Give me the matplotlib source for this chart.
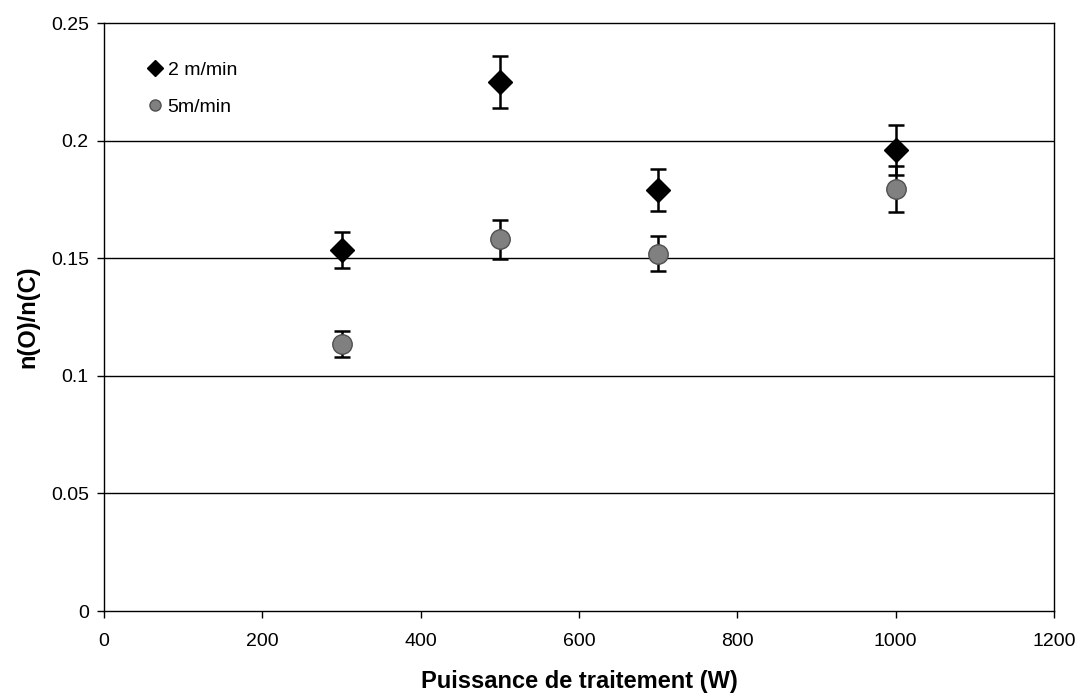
import matplotlib
matplotlib.use("Agg")
import matplotlib.pyplot as plt
from matplotlib.lines import Line2D

plt.rcParams['font.family'] = ['Liberation Sans', 'DejaVu Sans']

power = [300, 500, 700, 1000]
ratio_2 = [0.1535, 0.225, 0.179, 0.196]
err_2 = [0.0078, 0.011, 0.009, 0.0105]
ratio_5 = [0.1135, 0.158, 0.152, 0.1794]
err_5 = [0.0055, 0.0082, 0.0075, 0.0098]
labels = ['2 m/min', '5m/min']
xticks = [0, 200, 400, 600, 800, 1000, 1200]
yticks = [0, 0.05, 0.1, 0.15, 0.2, 0.25]
ytick_labels = ['0', '0.05', '0.1', '0.15', '0.2', '0.25']

fig = plt.figure(figsize=(10.86, 7.0), dpi=100)
ax = fig.add_axes([0.0958, 0.1271, 0.8748, 0.84])

for yv in yticks[1:-1]:
    ax.axhline(yv, color='black', lw=1.0, zorder=1)

ax.errorbar(power, ratio_2, yerr=err_2, fmt='D', color='black', ms=12,
            ecolor='black', elinewidth=1.8, capsize=5.5, capthick=1.8,
            label=labels[0], zorder=3)
ax.errorbar(power, ratio_5, yerr=err_5, fmt='o', color='#808080', mec='#505050', ms=14,
            ecolor='black', elinewidth=1.8, capsize=5.5, capthick=1.8,
            label=labels[1], zorder=3)

ax.set_xlim(0, 1200)
ax.set_ylim(0, 0.25)
ax.set_xticks(xticks)
ax.set_yticks(yticks)
ax.set_yticklabels(ytick_labels)
ax.tick_params(direction='out', length=5, width=1, labelsize=14)
ax.tick_params(axis='x', pad=11)
ax.tick_params(axis='y', pad=6)
for s in ax.spines.values():
    s.set_linewidth(1.0)

ax.set_xlabel('Puissance de traitement (W)', fontsize=17, fontweight='bold', labelpad=14)
ax.set_ylabel('n(O)/n(C)', fontsize=17, fontweight='bold', labelpad=8)

h = [Line2D([], [], marker='D', color='black', ls='none', ms=8),
     Line2D([], [], marker='o', color='#808080', mec='#505050', ls='none', ms=8)]
ax.legend(h, labels, loc='upper left', bbox_to_anchor=(0.025, 0.965), frameon=False,
          fontsize=14, handletextpad=0.15, handlelength=1.0, labelspacing=1.0)

fig.savefig('out.png', dpi=100)
